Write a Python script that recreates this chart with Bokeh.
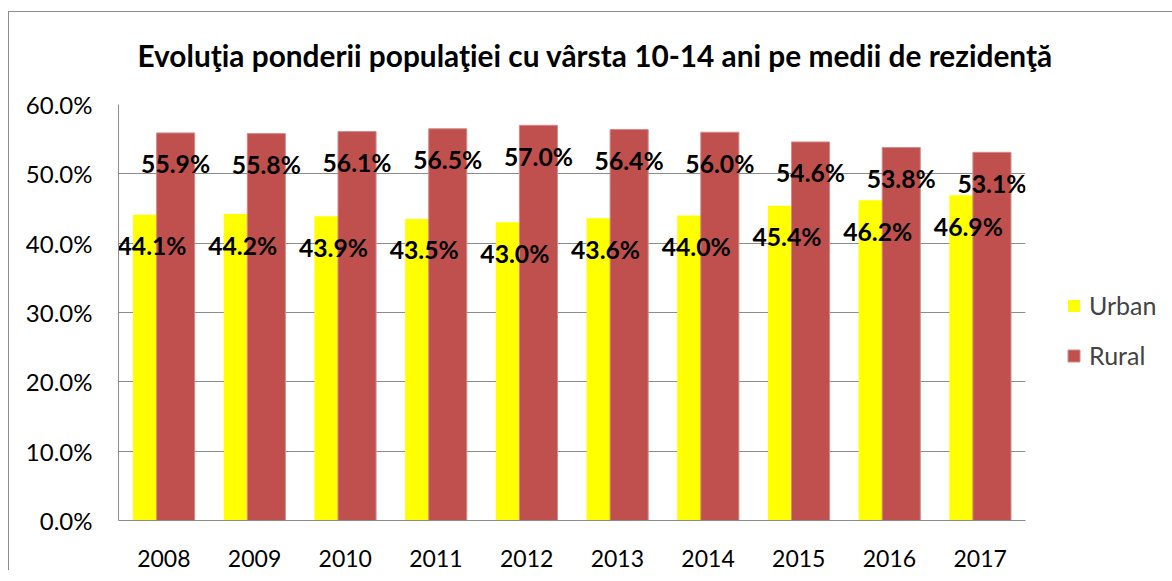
from bokeh.plotting import figure
from bokeh.models import (FactorRange, Range1d, FixedTicker, PrintfTickFormatter,
                          Legend, LegendItem, ColumnDataSource, Column)
from bokeh.transform import dodge
from bokeh.core.properties import value
from bokeh.embed import file_html
from bokeh.resources import INLINE

years = ["2008", "2009", "2010", "2011", "2012", "2013", "2014", "2015", "2016", "2017"]
urban = [44.1, 44.2, 43.9, 43.5, 43.0, 43.6, 44.0, 45.4, 46.2, 46.9]
rural = [55.9, 55.8, 56.1, 56.5, 57.0, 56.4, 56.0, 54.6, 53.8, 53.1]
y_ticks = [0, 10, 20, 30, 40, 50, 60]
title_text = "Evoluţia ponderii populaţiei cu vârsta 10-14 ani pe medii de rezidenţă"

FONT = "Lato"
GRAY = "#8c8c8c"
URBAN_C = "#FFFF00"
RURAL_C = "#C0504D"

src = ColumnDataSource(dict(
    years=years, urban=urban, rural=rural,
    urban_lbl=[f"{v:.1f}%" for v in urban],
    rural_lbl=[f"{v:.1f}%" for v in rural],
))

p = figure(frame_width=907, frame_height=416, x_range=FactorRange(*years), y_range=Range1d(0, 60),
           output_backend="svg", toolbar_location=None,
           min_border_left=109, min_border_right=10, min_border_top=102, min_border_bottom=50,
           margin=(-10, 0, 0, 0))
p.outline_line_color = None
p.background_fill_color = "white"
p.border_fill_alpha = 0

p.title.text = title_text
p.title.text_font = FONT
p.title.text_font_size = "29.8px"
p.title.text_font_style = "bold"
p.title.text_color = "black"
p.title.align = "left"
p.title.offset = 19
p.title.standoff = 64

bw = 0.42
r_u = p.vbar(x=dodge("years", -0.13, range=p.x_range), top="urban", width=bw, source=src,
             fill_color=URBAN_C, line_color=None)
r_r = p.vbar(x=dodge("years", 0.13, range=p.x_range), top="rural", width=bw, source=src,
             fill_color=RURAL_C, line_color="#D08C8A", line_width=1)

for col, lbl, off in (("urban", "urban_lbl", -0.13), ("rural", "rural_lbl", 0.13)):
    p.text(x=dodge("years", off, range=p.x_range), y=col, text=lbl, source=src,
           text_font=value(FONT), text_font_size="24.7px", text_font_style="bold",
           text_color="black", text_align="center", text_baseline="middle", y_offset=31)

p.xgrid.grid_line_color = None
p.ygrid.grid_line_color = GRAY
p.ygrid.grid_line_width = 1
p.ygrid.ticker = FixedTicker(ticks=y_ticks)

p.yaxis.ticker = FixedTicker(ticks=y_ticks)
p.yaxis.formatter = PrintfTickFormatter(format="%.1f%%")
for ax in (p.xaxis[0], p.yaxis[0]):
    ax.axis_line_color = GRAY
    ax.axis_line_width = 1
    ax.major_tick_line_color = None
    ax.minor_tick_line_color = None
    ax.major_tick_in = 0
    ax.major_tick_out = 0
    ax.major_label_text_font = FONT
    ax.major_label_text_color = "black"
p.yaxis.major_label_text_font_size = "24px"
p.xaxis.major_label_text_font_size = "23px"
p.yaxis.major_label_standoff = 26
p.xaxis.major_label_standoff = 29

legend = Legend(items=[LegendItem(label="Urban", renderers=[r_u]),
                       LegendItem(label="Rural", renderers=[r_r])],
                location=(41, 150), orientation="vertical",
                glyph_width=15, glyph_height=15, label_standoff=8, spacing=20,
                padding=0, margin=0, border_line_color=None, background_fill_alpha=0,
                label_text_font=FONT, label_text_font_size="25px")
p.add_layout(legend, "right")

page = Column(children=[p], margin=(11, 0, 0, 8),
              styles={"border-left": f"1px solid {GRAY}", "border-top": f"1px solid {GRAY}"})

open("out.html", "w").write(file_html(page, INLINE))
